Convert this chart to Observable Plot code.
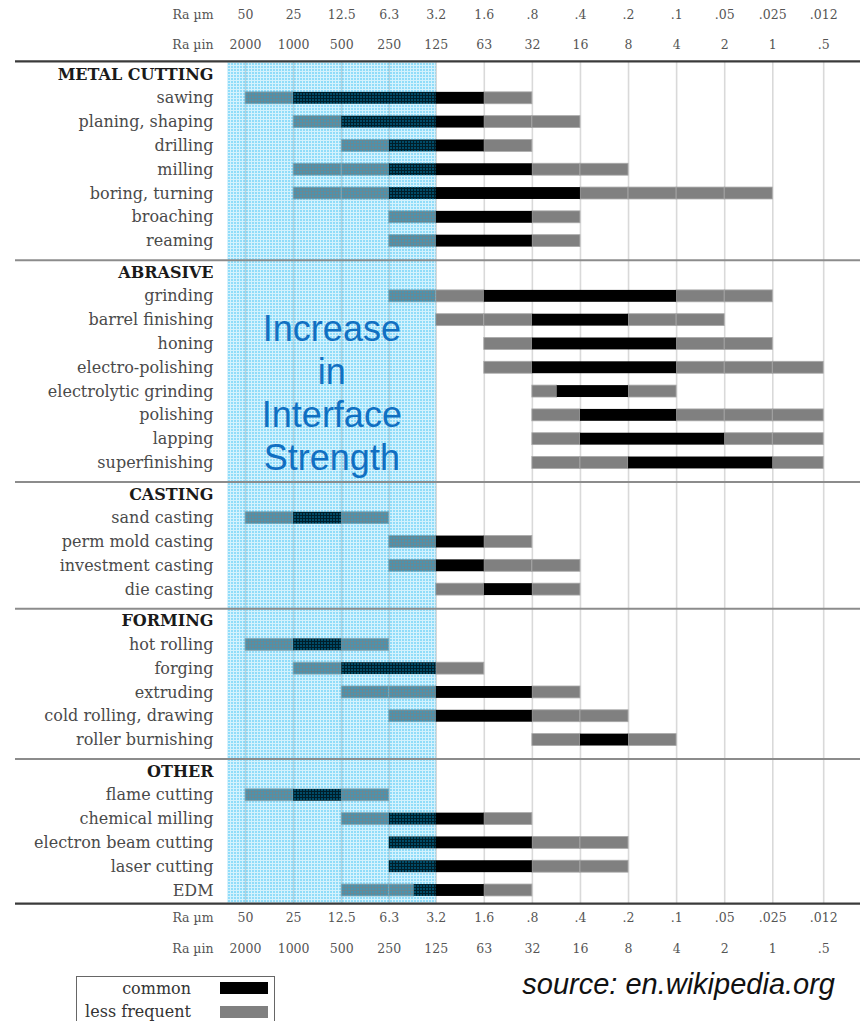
<!DOCTYPE html>
<html>
<head>
<meta charset="utf-8">
<script src="https://cdn.jsdelivr.net/npm/d3@7"></script>
<script src="https://cdn.jsdelivr.net/npm/@observablehq/plot@0.6"></script>
<style>
  html, body { margin: 0; padding: 0; background: #fff; overflow: hidden; }
  #wrap { position: relative; width: 864px; height: 1021px; }
  #legend { position: absolute; left: 76px; top: 976px; width: 197px; height: 60px;
    border: 1.5px solid #666; background: #fff; font-family: "DejaVu Serif", serif; font-size: 16px; color: #333; }
  #legend .row { position: absolute; left: 0; width: 197px; height: 20px; }
  #legend .lab { position: absolute; right: 83px; top: 0; line-height: 20px; white-space: nowrap; }
  #legend .sw { position: absolute; left: 143px; width: 48px; height: 12px; top: 4px; }
  #source { position: absolute; right: 29px; top: 970px; font-family: "Liberation Sans", Arial, sans-serif;
    font-style: italic; font-size: 29px; line-height: 29px; color: #111; white-space: nowrap; }
</style>
</head>
<body>
<div id="wrap">
  <div id="chart"></div>
  <div id="legend"></div>
  <div id="source">source: en.wikipedia.org</div>
</div>
<script>
// ---- data ----
const groups = ["METAL CUTTING", "ABRASIVE", "CASTING", "FORMING", "OTHER"];
const processes = [
  "sawing", "planing, shaping", "drilling", "milling", "boring, turning", "broaching", "reaming",
  "grinding", "barrel finishing", "honing", "electro-polishing", "electrolytic grinding", "polishing", "lapping", "superfinishing",
  "sand casting", "perm mold casting", "investment casting", "die casting",
  "hot rolling", "forging", "extruding", "cold rolling, drawing", "roller burnishing",
  "flame cutting", "chemical milling", "electron beam cutting", "laser cutting", "EDM"
];
const processGroup = [0,0,0,0,0,0,0, 1,1,1,1,1,1,1,1, 2,2,2,2, 3,3,3,3,3, 4,4,4,4,4];
// Ra in micrometres: less-frequent start, common start, common end, less-frequent end
const lessFrom   = [50, 25, 12.5, 25, 25, 6.3, 6.3,   6.3, 3.2, 1.6, 1.6, 0.8, 0.8, 0.8, 0.8,   50, 6.3, 6.3, 3.2,   50, 25, 12.5, 6.3, 0.8,   50, 12.5, 6.3, 6.3, 12.5];
const commonFrom = [25, 12.5, 6.3, 6.3, 6.3, 3.2, 3.2, 1.6, 0.8, 0.8, 0.8, 0.56, 0.4, 0.4, 0.2,  25, 3.2, 3.2, 1.6,   25, 12.5, 3.2, 3.2, 0.4,  25, 6.3, 6.3, 6.3, 4.4];
const commonTo   = [1.6, 1.6, 1.6, 0.8, 0.4, 0.8, 0.8,  0.1, 0.2, 0.1, 0.1, 0.2, 0.1, 0.05, 0.025,  12.5, 1.6, 1.6, 0.8,  12.5, 3.2, 0.8, 0.8, 0.2,  12.5, 1.6, 0.8, 0.8, 1.6];
const lessTo     = [0.8, 0.4, 0.8, 0.2, 0.025, 0.4, 0.4,  0.025, 0.05, 0.025, 0.012, 0.1, 0.012, 0.012, 0.012,  6.3, 0.8, 0.4, 0.4,  6.3, 1.6, 0.4, 0.2, 0.1,  6.3, 0.8, 0.2, 0.2, 0.8];
const raMicrometer = ["50", "25", "12.5", "6.3", "3.2", "1.6", ".8", ".4", ".2", ".1", ".05", ".025", ".012"];
const raMicroinch  = ["2000", "1000", "500", "250", "125", "63", "32", "16", "8", "4", "2", "1", ".5"];
const annotation = "Increase\nin\nInterface\nStrength";
const blueFrom = 64.8, blueTo = 3.2; // shaded Ra range (µm)

// ---- layout of rows ----
const GAP = 1.32;
let p = -1;
const headers = [], rows = [];
groups.forEach((g, gi) => {
  p += gi === 0 ? 1 : GAP;
  headers.push({name: g, pos: p, gi});
  processes.forEach((name, i) => {
    if (processGroup[i] === gi) { p += 1; rows.push({name, pos: p, i}); }
  });
});
const topLine = -0.55, bottomLine = p + 0.55;
const dividers = headers.filter(h => h.gi > 0).map(h => h.pos - 0.52);
const ticks = raMicrometer.map(Number);

function split(a, b, pos) {
  if (!(a > b)) return [];
  const cuts = ticks.filter(t => t < a - 1e-9 && t > b + 1e-9);
  const pts = [a, ...cuts, b];
  const out = [];
  for (let k = 0; k < pts.length - 1; k++) out.push({x1: pts[k], x2: pts[k + 1], pos});
  return out;
}
const lessSegs = rows.flatMap(r => [
  ...split(lessFrom[r.i], commonFrom[r.i], r.pos),
  ...split(commonTo[r.i], lessTo[r.i], r.pos)
]);
const commonBars = rows.map(r => ({x1: commonFrom[r.i], x2: commonTo[r.i], pos: r.pos}));

const serif = "DejaVu Serif";
const H = 0.25;

const chart = Plot.plot({
  width: 864,
  height: 965,
  marginLeft: 15,
  marginRight: 4,
  x: {type: "log", domain: [50 * 2 ** 4.784, 50 / 2 ** 12.79], axis: null},
  y: {type: "linear", domain: [0, p], range: [74, 890], axis: null},
  marks: [
    Plot.ruleX(ticks, {x: d => d, y1: topLine, y2: bottomLine, stroke: "#d9d9d9", strokeWidth: 1.6}),
    Plot.rect(lessSegs, {x1: "x1", x2: "x2", y1: d => d.pos - H, y2: d => d.pos + H, fill: "#808080", stroke: "#a8a8a8", strokeWidth: 0.8}),
    Plot.rect(commonBars, {x1: "x1", x2: "x2", y1: d => d.pos - H, y2: d => d.pos + H, fill: "#000000"}),
    Plot.rect([0], {x1: blueFrom, x2: blueTo, y1: topLine, y2: bottomLine, fill: "#c1eafb"}),
    Plot.ruleY(dividers, {y: d => d, stroke: "#8c8c8c", strokeWidth: 2}),
    Plot.ruleY([topLine, bottomLine], {y: d => d, stroke: "#3a3a3a", strokeWidth: 2.2}),
    // row labels
    Plot.text(rows, {x: 50, dx: -32, y: "pos", text: "name", textAnchor: "end", fontFamily: serif, fontSize: 16, fill: "#4a4a4a"}),
    Plot.text(headers, {x: 50, dx: -32, y: "pos", text: "name", textAnchor: "end", fontFamily: serif, fontSize: 16, fontWeight: "bold", fill: "#1a1a1a"}),
    // axis labels top & bottom
    ...[[-2.52, raMicrometer, "Ra µm"], [-1.23, raMicroinch, "Ra µin"], [bottomLine + 0.61, raMicrometer, "Ra µm"], [bottomLine + 1.91, raMicroinch, "Ra µin"]].flatMap(([yy, labels, name]) => [
      Plot.text(labels, {x: (d, i) => ticks[i], y: yy, text: d => d, fontFamily: serif, fontSize: 12.5, fill: "#555"}),
      Plot.text([name], {x: 50, dx: -32, y: yy, text: d => d, textAnchor: "end", fontFamily: serif, fontSize: 12.5, fill: "#555"})
    ]),
    // annotation
    Plot.text([annotation], {x: Math.sqrt(blueFrom * blueTo), y: 13.33, text: d => d, fontFamily: "Liberation Sans, Arial, sans-serif", fontSize: 36, lineHeight: 1.2, fill: "#1170c2"})
  ]
});

d3.select(chart).insert("defs", ":first-child").html(
  '<pattern id="blueGrid" patternUnits="userSpaceOnUse" width="3" height="3">' +
  '<rect width="3" height="3" fill="rgb(0,175,240)" fill-opacity="0.17"></rect>' +
  '<rect width="2" height="2" fill="rgb(0,175,240)" fill-opacity="0.32"></rect>' +
  '</pattern>'
);
d3.select(chart).selectAll('[fill="#c1eafb"]').attr("fill", "url(#blueGrid)");
document.getElementById("chart").appendChild(chart);

// legend
const legend = d3.select("#legend");
[["common", "#000"], ["less frequent", "#808080"]].forEach(([label, color], k) => {
  const row = legend.append("div").attr("class", "row").style("top", (k === 0 ? 2 : 25) + "px");
  row.append("div").attr("class", "lab").text(label);
  row.append("div").attr("class", "sw").style("background", color).style("top", (k === 0 ? 3 : 4) + "px");
});
</script>
</body>
</html>
